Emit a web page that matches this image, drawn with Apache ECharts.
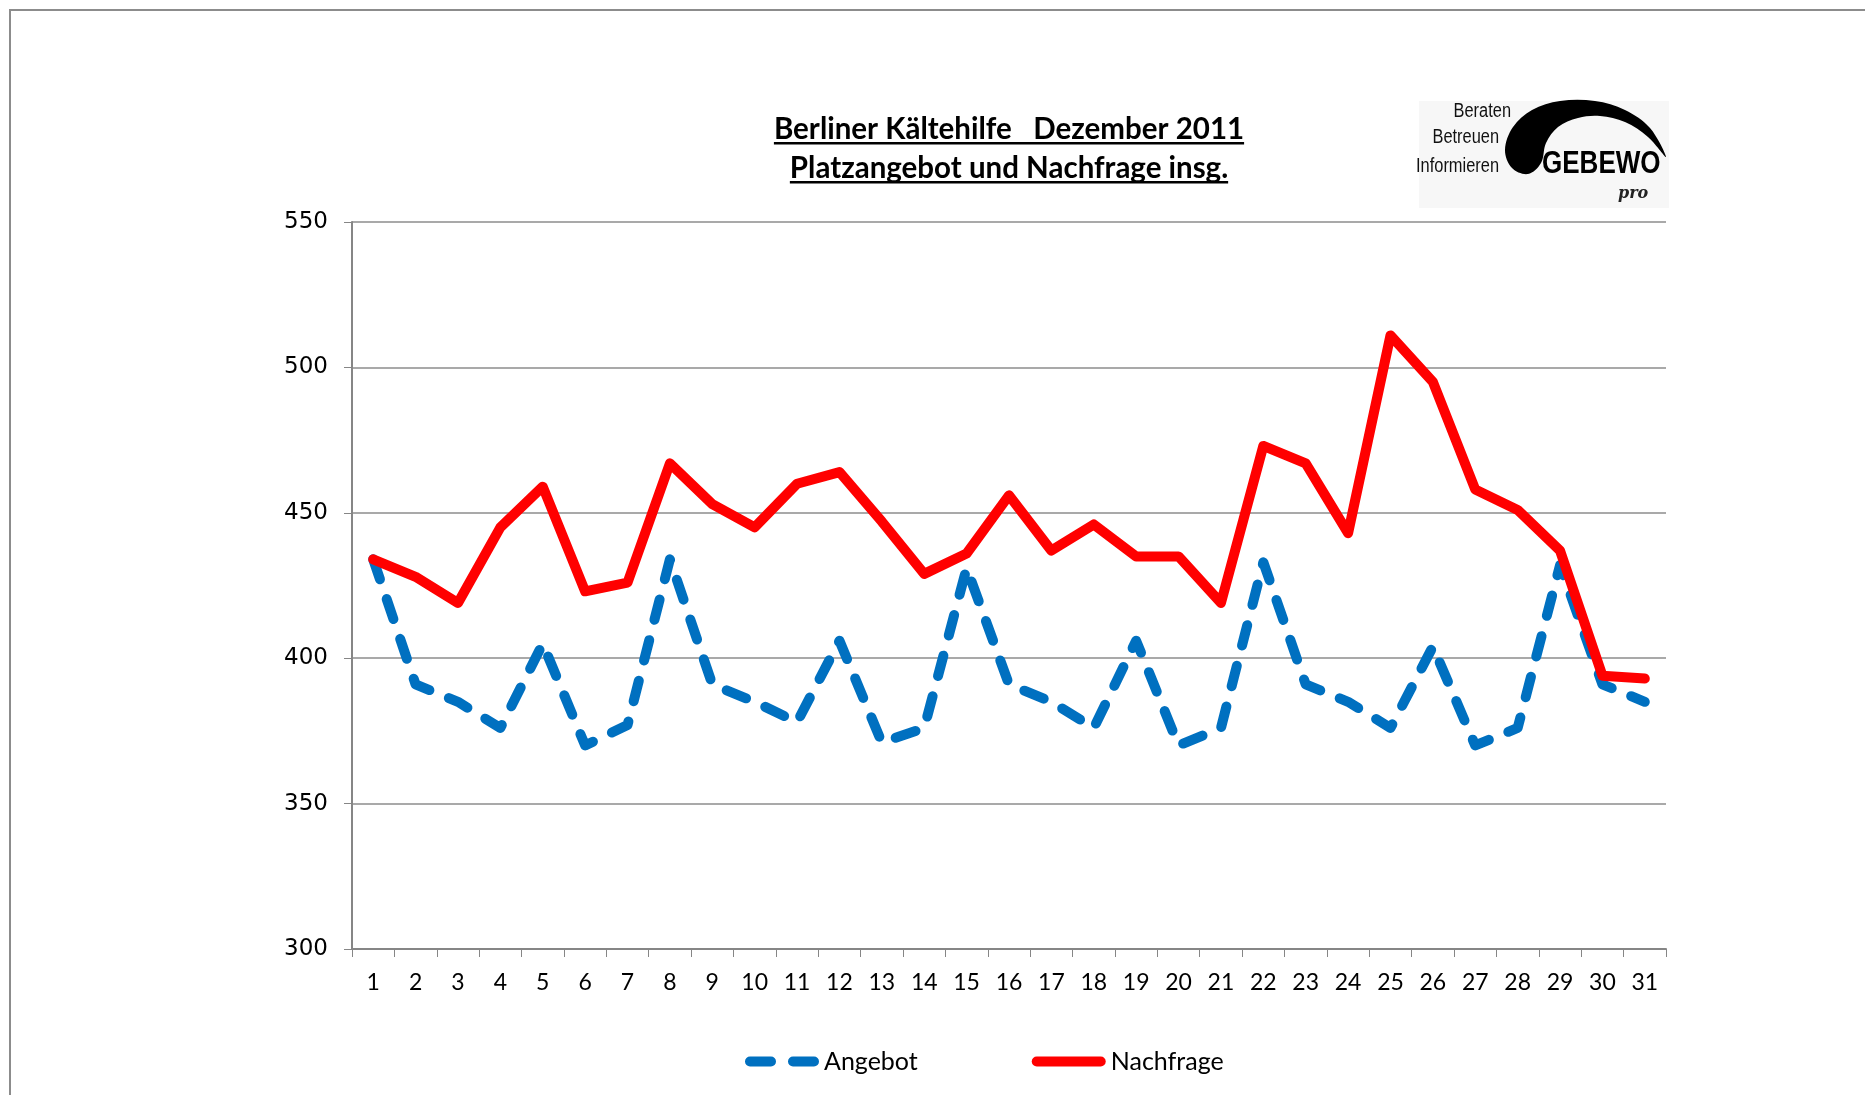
<!DOCTYPE html>
<html>
<head>
<meta charset="utf-8">
<script src="https://cdn.jsdelivr.net/npm/echarts@6/dist/echarts.min.js"></script>
<style>
  html, body { margin: 0; padding: 0; background: #fff; }
  #chart { width: 1865px; height: 1095px; }
</style>
</head>
<body>
<div id="chart"></div>
<script>
// Tage im Dezember 2011
const days = ['1','2','3','4','5','6','7','8','9','10','11','12','13','14','15','16',
  '17','18','19','20','21','22','23','24','25','26','27','28','29','30','31'];

// Platzangebot (blau, gestrichelt)
const angebot = [434, 391, 385, 376, 405, 370, 377, 434, 391, 385, 378, 406, 371, 376, 431, 391,
  385, 376, 406, 370, 376, 433, 391, 385, 376, 404, 370, 376, 432, 391, 385];

// Nachfrage (rot)
const nachfrage = [434, 428, 419, 445, 459, 423, 426, 467, 453, 445, 460, 464, 447, 429, 436, 456,
  437, 446, 435, 435, 419, 473, 467, 443, 511, 495, 458, 451, 437, 394, 393];

const yTicks = { min: 300, max: 550, interval: 50 };

const titleLines = ['Berliner Kältehilfe   Dezember 2011', 'Platzangebot und Nachfrage insg.'];
const logoWords = ['Beraten', 'Betreuen', 'Informieren'];

const TITLE_FONT = 'Lato';
const TITLE_SIZE = 29.5;

function textWidth(txt, size, weight, family) {
  const ctx = document.createElement('canvas').getContext('2d');
  ctx.font = weight + ' ' + size + 'px ' + family;
  return ctx.measureText(txt).width;
}

// title with underline
const titleGraphics = [];
const titleCx = 1009;
const titleY = [129, 168];
titleLines.forEach((t, i) => {
  const w = textWidth(t, TITLE_SIZE, 'bold', TITLE_FONT);
  titleGraphics.push({
    type: 'text',
    style: {
      text: t, x: titleCx, y: titleY[i], align: 'center', verticalAlign: 'middle',
      fontFamily: TITLE_FONT, fontWeight: 'bold', fontSize: TITLE_SIZE, fill: '#000'
    }
  });
  titleGraphics.push({
    type: 'rect',
    shape: { x: titleCx - w / 2, y: titleY[i] + 13, width: w, height: 2.5 },
    style: { fill: '#000' }
  });
});

// GEBEWO logo (swoosh drawn as smoothed polygon)
const swoosh = [
  [1666, 157], [1650, 128], [1625, 110], [1595, 101], [1560, 101], [1532, 110], [1513, 127],
  [1505, 150], [1512, 168], [1528, 174], [1541, 163], [1546, 143], [1558, 127], [1578, 118],
  [1600, 116], [1625, 122], [1648, 137]
];
const logoGraphics = [
  { type: 'rect', shape: { x: 1419, y: 101, width: 250, height: 107 }, style: { fill: '#f7f7f7' } },
  { type: 'polygon', shape: { points: swoosh, smooth: 0.35 }, style: { fill: '#000' } },
  {
    type: 'text', x: 1542, y: 164, scaleX: 0.84,
    style: { text: 'GEBEWO', x: 0, y: 0, verticalAlign: 'middle', fontFamily: 'Liberation Sans',
      fontWeight: 'bold', fontSize: 31, fill: '#000' }
  },
  {
    type: 'text',
    style: { text: 'pro', x: 1618, y: 194, verticalAlign: 'middle', fontFamily: 'DejaVu Serif',
      fontStyle: 'italic', fontWeight: 'bold', fontSize: 16, fill: '#222' }
  }
];
const wordPos = [[1511, 111], [1499, 137], [1499, 166]];
logoWords.forEach((w, i) => {
  logoGraphics.push({
    type: 'text', x: wordPos[i][0], y: wordPos[i][1], scaleX: 0.82,
    style: { text: w, x: 0, y: 0, align: 'right', verticalAlign: 'middle',
      fontFamily: 'Liberation Sans', fontSize: 20, fill: '#111' }
  });
});

// legend icons: two pills for the dashed line, one long pill for the solid line
const ICON_DASH = 'path://M5,0H26A5,5,0,0,1,26,10H5A5,5,0,0,1,5,0ZM48,0H69A5,5,0,0,1,69,10H48A5,5,0,0,1,48,0Z';
const ICON_SOLID = 'path://M5,0H69A5,5,0,0,1,69,10H5A5,5,0,0,1,5,0Z';

const chart = echarts.init(document.getElementById('chart'), null, { renderer: 'canvas' });

chart.setOption({
  backgroundColor: '#fff',
  animation: false,
  graphic: [
    { type: 'rect', shape: { x: 10, y: 10, width: 1900, height: 1200 },
      style: { fill: 'none', stroke: '#8c8c8c', lineWidth: 2 } },
    ...titleGraphics,
    ...logoGraphics
  ],
  grid: { left: 352, right: 199, top: 222, bottom: 146, containLabel: false },
  legend: {
    left: 740,
    top: 1044,
    itemWidth: 74,
    itemHeight: 10,
    itemGap: 114,
    textStyle: { fontFamily: 'Lato', fontSize: 25, color: '#000', width: 100 },
    data: [
      { name: 'Angebot', icon: ICON_DASH, itemStyle: { color: '#0070C0' } },
      { name: 'Nachfrage', icon: ICON_SOLID, itemStyle: { color: '#FF0000' } }
    ]
  },
  xAxis: {
    type: 'category',
    data: days,
    boundaryGap: true,
    axisLine: { lineStyle: { color: '#868686', width: 2 } },
    axisTick: { show: true, length: 8, lineStyle: { color: '#868686', width: 1 } },
    axisLabel: { fontFamily: 'Lato', fontSize: 23, color: '#000', margin: 22, interval: 0 }
  },
  yAxis: {
    type: 'value',
    min: yTicks.min,
    max: yTicks.max,
    interval: yTicks.interval,
    axisLine: { show: true, lineStyle: { color: '#868686', width: 2 } },
    axisTick: { show: true, length: 8, lineStyle: { color: '#868686', width: 1 } },
    axisLabel: { fontFamily: 'DejaVu Sans', fontSize: 23, color: '#000', margin: 24 },
    splitLine: { lineStyle: { color: '#8c8c8c', width: 1.5 } }
  },
  series: [
    {
      name: 'Angebot',
      type: 'line',
      data: angebot,
      symbol: 'none',
      color: '#0070C0',
      lineStyle: { color: '#0070C0', width: 10, type: [21, 21], cap: 'round', join: 'round' }
    },
    {
      name: 'Nachfrage',
      type: 'line',
      data: nachfrage,
      symbol: 'none',
      color: '#FF0000',
      lineStyle: { color: '#FF0000', width: 10, cap: 'round', join: 'round' }
    }
  ]
});
</script>
</body>
</html>
